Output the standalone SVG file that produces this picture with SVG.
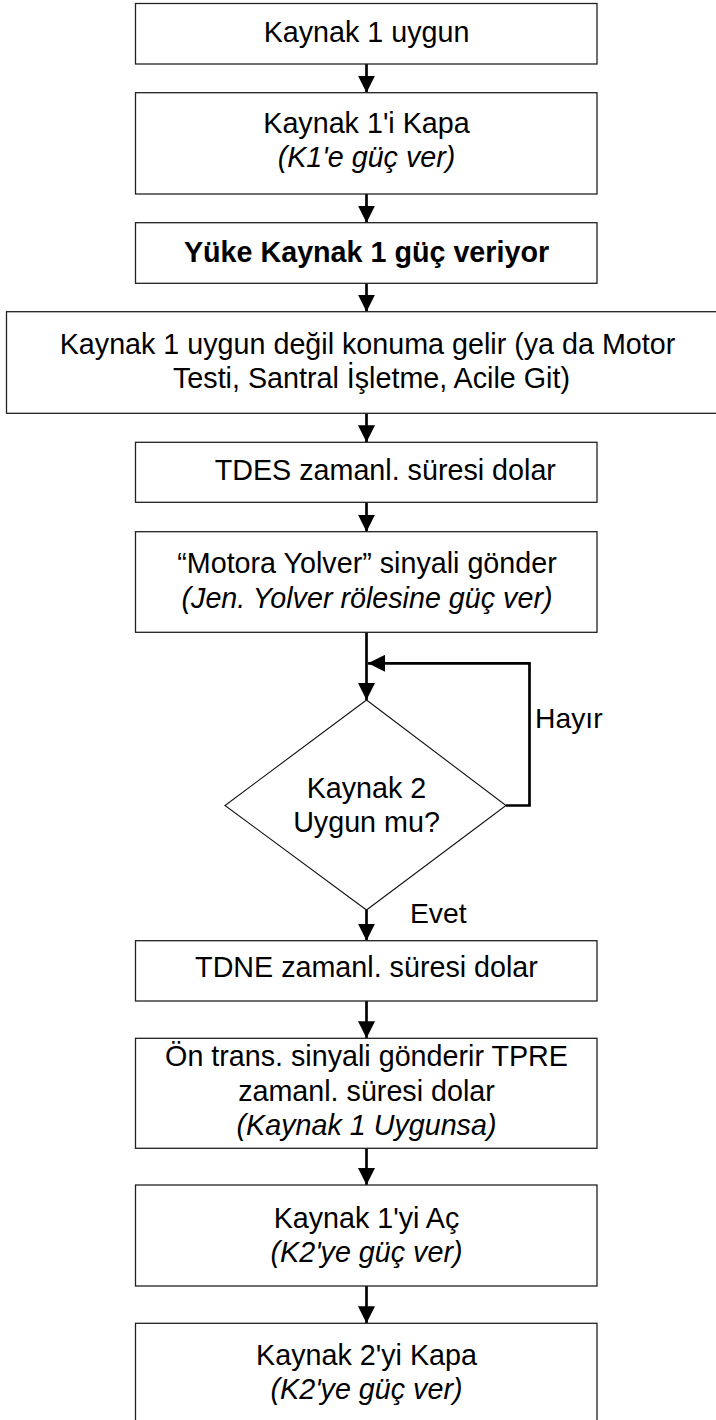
<svg xmlns="http://www.w3.org/2000/svg" width="716" height="1420" viewBox="0 0 716 1420">
<style>
.box{fill:#fff;stroke:#222;stroke-width:1.3}
.dia{fill:#fff;stroke:#111;stroke-width:1.1}
.t{font-family:"Liberation Sans",Arial,sans-serif;font-size:28.7px;fill:#000;text-anchor:middle}
.s{text-anchor:start}
.i{font-style:italic}
.b{font-weight:bold}
.c{fill:none;stroke:#000;stroke-width:2.7}
</style>
<defs>
<marker id="ah" viewBox="0 0 17 17" refX="17" refY="8.5" markerUnits="userSpaceOnUse" markerWidth="17" markerHeight="17" orient="auto">
<path d="M0,0 L17,8.5 L0,17 z" fill="#000"/>
</marker>
</defs>
<rect width="716" height="1420" fill="#fff"/>
<g id="connectors">
<line class="c" x1="366.5" y1="64" x2="366.5" y2="92.7" marker-end="url(#ah)"/>
<line class="c" x1="366.5" y1="194" x2="366.5" y2="222.7" marker-end="url(#ah)"/>
<line class="c" x1="366.5" y1="283.3" x2="366.5" y2="311.7" marker-end="url(#ah)"/>
<line class="c" x1="366.5" y1="413.3" x2="366.5" y2="442.3" marker-end="url(#ah)"/>
<line class="c" x1="366.5" y1="502.3" x2="366.5" y2="531.7" marker-end="url(#ah)"/>
<line class="c" x1="366.5" y1="632.3" x2="366.5" y2="700" marker-end="url(#ah)"/>
<path class="c" d="M506,805.5 H529.5 V663.3 H368" marker-end="url(#ah)"/>
<line class="c" x1="366.5" y1="910" x2="366.5" y2="940.7" marker-end="url(#ah)"/>
<line class="c" x1="366.5" y1="1001" x2="366.5" y2="1038.3" marker-end="url(#ah)"/>
<line class="c" x1="366.5" y1="1148.3" x2="366.5" y2="1185" marker-end="url(#ah)"/>
<line class="c" x1="366.5" y1="1286" x2="366.5" y2="1323.3" marker-end="url(#ah)"/>
<text class="t s" x="535" y="728" style="font-size:28.3px">Hayır</text>
<text class="t s" x="410" y="922.7" style="font-size:28.3px">Evet</text>
</g>
<g id="n1">
<rect class="box" x="135.5" y="3.5" width="461.5" height="60.5"/>
<text class="t" x="366.5" y="42.3">Kaynak 1 uygun</text>
</g>
<g id="n2">
<rect class="box" x="135.5" y="92.7" width="461.5" height="101.3"/>
<text class="t" x="366.5" y="133.3">Kaynak 1'i Kapa</text>
<text class="t i" x="366.5" y="166.7">(K1'e güç ver)</text>
</g>
<g id="n3">
<rect class="box" x="135.5" y="222.7" width="461.5" height="60.6"/>
<text class="t b" x="366.5" y="261.7">Yüke Kaynak 1 güç veriyor</text>
</g>
<g id="n4">
<rect class="box" x="6.5" y="311.7" width="730" height="101.6"/>
<text class="t" x="367.5" y="353.5">Kaynak 1 uygun değil konuma gelir (ya da Motor</text>
<text class="t" x="371.5" y="388">Testi, Santral İşletme, Acile Git)</text>
</g>
<g id="n5">
<rect class="box" x="135.5" y="442.3" width="461.5" height="60"/>
<text class="t" x="385.3" y="480">TDES zamanl. süresi dolar</text>
</g>
<g id="n6">
<rect class="box" x="135.5" y="531.7" width="461.5" height="100.6"/>
<text class="t" x="367" y="573.3">“Motora Yolver” sinyali gönder</text>
<text class="t i" x="367" y="608.3">(Jen. Yolver rölesine güç ver)</text>
</g>
<g id="n7">
<polygon class="dia" points="366.5,700 506,805.5 366.5,910 225,805.5"/>
<text class="t" x="366.5" y="798">Kaynak 2</text>
<text class="t" x="366.5" y="831.7">Uygun mu?</text>
</g>
<g id="n8">
<rect class="box" x="135.5" y="940.7" width="461.5" height="60.3"/>
<text class="t" x="366.5" y="977.3">TDNE zamanl. süresi dolar</text>
</g>
<g id="n9">
<rect class="box" x="135.5" y="1038.3" width="461.5" height="110"/>
<text class="t" x="366.5" y="1065.7">Ön trans. sinyali gönderir TPRE</text>
<text class="t" x="366.5" y="1101">zamanl. süresi dolar</text>
<text class="t i" x="366.5" y="1135">(Kaynak 1 Uygunsa)</text>
</g>
<g id="n10">
<rect class="box" x="135.5" y="1185" width="461.5" height="101"/>
<text class="t" x="366.5" y="1228.3">Kaynak 1'yi Aç</text>
<text class="t i" x="366.5" y="1262.3">(K2'ye güç ver)</text>
</g>
<g id="n11">
<rect class="box" x="135.5" y="1323.3" width="461.5" height="120"/>
<text class="t" x="366.5" y="1365">Kaynak 2'yi Kapa</text>
<text class="t i" x="366.5" y="1399.3">(K2'ye güç ver)</text>
</g>
</svg>
